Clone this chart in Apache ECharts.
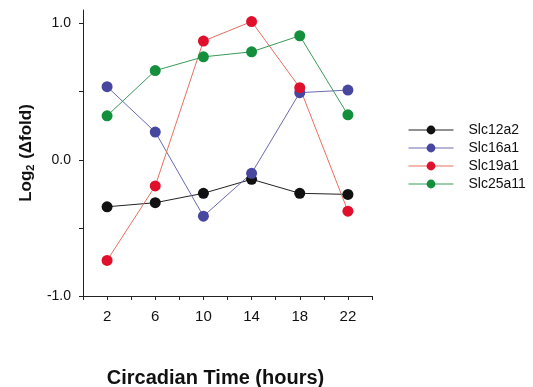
<!DOCTYPE html>
<html>
<head>
<meta charset="utf-8">
<script src="https://cdn.jsdelivr.net/npm/echarts@6/dist/echarts.min.js"></script>
<style>
  html, body { margin: 0; padding: 0; background: #fff; }
  #chart { width: 533px; height: 387px; }
</style>
</head>
<body>
<div id="chart"></div>
<script>
// Circadian time points (hours)
const hours = [2, 6, 10, 14, 18, 22];

// Log2 fold change per gene
const slc12a2 = [-0.345, -0.315, -0.246, -0.143, -0.246, -0.254];
const slc16a1 = [0.537, 0.204, -0.414, -0.099, 0.493, 0.512];
const slc19a1 = [-0.739, -0.192, 0.872, 1.015, 0.530, -0.377];
const slc25a11 = [0.323, 0.655, 0.756, 0.793, 0.911, 0.330];

const xTicks = [0, 2, 4, 6, 8, 10, 12, 14, 16, 18, 20, 22, 24];
const xLabels = [2, 6, 10, 14, 18, 22];
const yTicks = [-1, -0.5, 0, 0.5, 1];
const yLabels = [-1, 0, 1];

const seriesDefs = [
  { name: 'Slc12a2', values: slc12a2, line: '#222222', dot: '#111111' },
  { name: 'Slc16a1', values: slc16a1, line: '#6a6ab0', dot: '#4747a0' },
  { name: 'Slc19a1', values: slc19a1, line: '#e8705f', dot: '#e0102c' },
  { name: 'Slc25a11', values: slc25a11, line: '#3a9a5a', dot: '#14903c' }
];

const font = 'Liberation Sans, Arial, Helvetica, sans-serif';

const chart = echarts.init(document.getElementById('chart'), null, { renderer: 'canvas' });

chart.setOption({
  animation: false,
  backgroundColor: '#ffffff',
  grid: {
    left: 83, top: 10, width: 289, height: 286,
    containLabel: false,
    outerBoundsMode: 'none'
  },
  legend: {
    orient: 'vertical',
    left: 403,
    top: 118,
    itemWidth: 45,
    itemHeight: 11,
    itemGap: 4,
    itemStyle: { borderWidth: 0 },
    lineStyle: { width: 1 },
    textStyle: { fontFamily: font, fontSize: 14, color: '#111', padding: [0, 0, 0, 10] },
    data: seriesDefs.map(s => s.name)
  },
  xAxis: {
    type: 'value',
    min: 0,
    max: 24,
    interval: 2,
    name: 'Circadian Time (hours)',
    nameLocation: 'middle',
    nameGap: 72,
    nameTextStyle: {
      fontFamily: font, fontSize: 20, fontWeight: 'bold', color: '#111',
      padding: [0, 24, 0, 0]
    },
    axisLine: { show: true, onZero: false, lineStyle: { color: '#222', width: 1 } },
    axisTick: { show: true, length: 4, customValues: xTicks, lineStyle: { color: '#222' } },
    axisLabel: {
      customValues: xLabels,
      margin: 13,
      fontFamily: font, fontSize: 15, color: '#111'
    },
    splitLine: { show: false }
  },
  yAxis: {
    type: 'value',
    min: -1,
    max: 1.1,
    name: '{a|Log}{s|2}{a| (Δfold)}',
    nameLocation: 'middle',
    nameGap: 47,
    nameRotate: 90,
    nameTextStyle: {
      rich: {
        a: { fontFamily: font, fontSize: 17, fontWeight: 'bold', color: '#111' },
        s: { fontFamily: font, fontSize: 11, fontWeight: 'bold', color: '#111', verticalAlign: 'bottom', padding: [8, 1, 0, 0] }
      }
    },
    axisLine: { show: true, onZero: false, lineStyle: { color: '#222', width: 1 } },
    axisTick: { show: true, length: 4, customValues: yTicks, lineStyle: { color: '#222' } },
    axisLabel: {
      customValues: yLabels,
      margin: 12,
      fontFamily: font, fontSize: 14, color: '#111',
      formatter: v => v.toFixed(1)
    },
    splitLine: { show: false }
  },
  series: seriesDefs.map(s => ({
    name: s.name,
    type: 'line',
    data: hours.map((h, i) => [h, s.values[i]]),
    symbol: 'circle',
    symbolSize: 11,
    lineStyle: { color: s.line, width: 1 },
    itemStyle: { color: s.dot, borderWidth: 0 },
    emphasis: { disabled: true }
  }))
});
</script>
</body>
</html>
